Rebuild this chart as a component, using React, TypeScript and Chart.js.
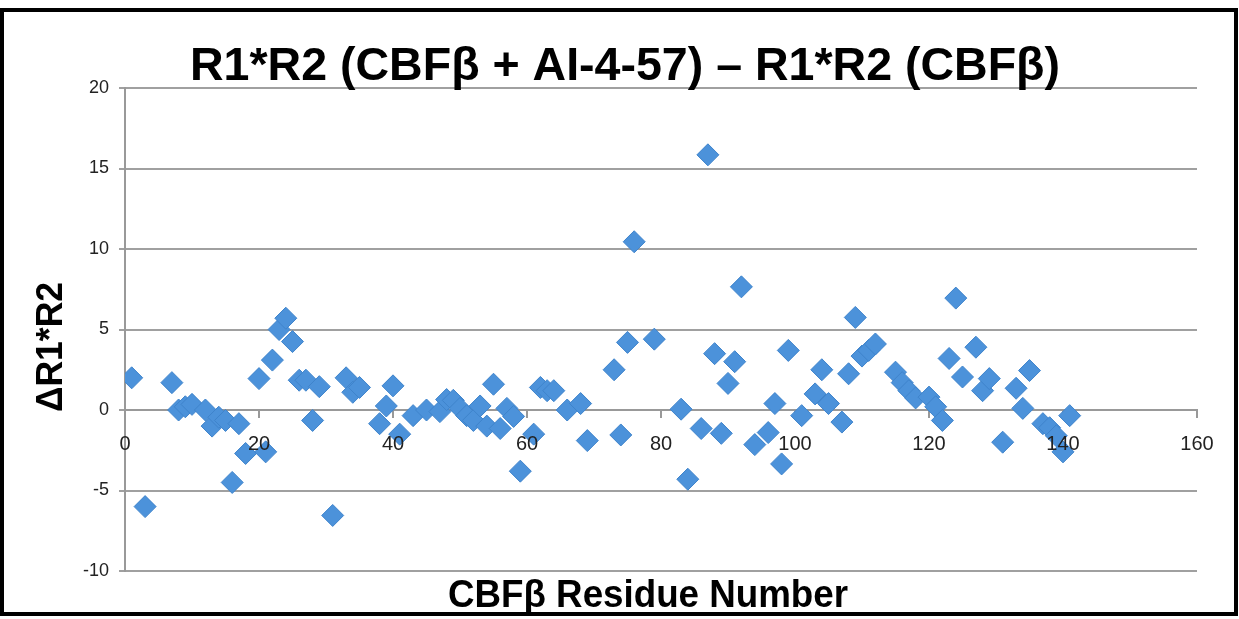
import React, { useEffect, useRef } from "react";
import { Chart, registerables } from "chart.js";

Chart.register(...registerables);

const chartTitle = "R1*R2 (CBFβ + AI-4-57) – R1*R2 (CBFβ)";
const xAxisTitle = "CBFβ Residue Number";
const yAxisTitle = "ΔR1*R2";

const residues = [
  1, 3, 7, 8, 9, 10, 12, 13, 14, 15, 16, 17, 18, 20, 21, 22, 23, 24, 25, 26, 27, 28, 29, 31, 33, 34, 35,
  38, 39, 40, 41, 43, 45, 47, 48, 49, 50, 51, 52, 53, 54, 55, 56, 57, 58, 59, 61, 62, 63, 64, 66, 68, 69,
  73, 74, 75, 76, 79, 83, 84, 86, 87, 88, 89, 90, 91, 92, 94, 96, 97, 98, 99, 101, 103, 104, 105, 107,
  108, 109, 110, 111, 112, 115, 116, 117, 118, 120, 121, 122, 123, 124, 125, 127, 128, 129, 131, 133,
  134, 135, 137, 138, 139, 140, 141,
];

const deltaR1R2 = [
  2.0, -6.0, 1.7, 0.0, 0.2, 0.35, 0.0, -1.0, -0.45, -0.65, -4.5, -0.85, -2.7, 1.95, -2.6, 3.1, 5.0, 5.7,
  4.25, 1.85, 1.85, -0.65, 1.45, -6.55, 2.0, 1.1, 1.4,
  -0.85, 0.25, 1.5, -1.5, -0.35, 0.0, -0.1, 0.65, 0.6, 0.1, -0.35, -0.65, 0.25, -1.0, 1.6, -1.15, 0.1,
  -0.4, -3.8, -1.5, 1.4, 1.2, 1.2, 0.0, 0.4, -1.9,
  2.5, -1.55, 4.2, 10.45, 4.4, 0.05, -4.3, -1.15, 15.85, 3.5, -1.45, 1.65, 3.0, 7.65, -2.15, -1.4, 0.4,
  -3.35, 3.7, -0.35, 1.0, 2.5, 0.4, -0.75,
  2.25, 5.75, 3.35, 3.7, 4.1, 2.35, 1.7, 1.2, 0.75, 0.8, 0.2, -0.65, 3.2, 6.95, 2.05, 3.9, 1.2, 1.95, -2.0,
  1.35, 0.1, 2.45, -0.85, -1.1, -1.6, -2.6, -0.35,
];

const xTickValues = [0, 20, 40, 60, 80, 100, 120, 140, 160];
const xMin = 0;
const xMax = 160;
const yMin = -10;
const yMax = 20;
const yStep = 5;

const FONT = '"Liberation Sans", Arial, sans-serif';

function drawSqueezed(
  ctx: CanvasRenderingContext2D,
  text: string,
  x: number,
  y: number,
  font: string,
  targetWidth: number,
  rotate: boolean
) {
  ctx.save();
  ctx.font = font;
  const w = ctx.measureText(text).width;
  const s = targetWidth / w;
  ctx.translate(x, y);
  if (rotate) ctx.rotate(-Math.PI / 2);
  ctx.scale(s, 1);
  ctx.textAlign = "center";
  ctx.textBaseline = "alphabetic";
  ctx.fillStyle = "#000";
  ctx.fillText(text, 0, 0);
  ctx.restore();
}

const framePlugin = {
  id: "frame",
  beforeDraw(chart: any) {
    const ctx = chart.ctx;
    ctx.save();
    ctx.fillStyle = "#fff";
    ctx.fillRect(0, 0, chart.width, chart.height);
    ctx.restore();
  },
  beforeDatasetsDraw(chart: any) {
    const ctx: CanvasRenderingContext2D = chart.ctx;
    const xs = chart.scales.x;
    const py = chart.scales.y.getPixelForValue(0);
    ctx.save();
    ctx.strokeStyle = "#999";
    ctx.lineWidth = 2;
    ctx.beginPath();
    xTickValues.forEach((v) => {
      const px = Math.round(xs.getPixelForValue(v));
      ctx.moveTo(px, py);
      ctx.lineTo(px, py + 8);
    });
    ctx.stroke();
    ctx.restore();
  },
  afterDatasetsDraw(chart: any) {
    const ctx: CanvasRenderingContext2D = chart.ctx;
    const xs = chart.scales.x;
    const py = chart.scales.y.getPixelForValue(0);
    ctx.save();
    ctx.font = `20px ${FONT}`;
    ctx.fillStyle = "#222";
    ctx.textAlign = "center";
    ctx.textBaseline = "middle";
    xTickValues.forEach((v) => {
      ctx.fillText(String(v), xs.getPixelForValue(v), py + 34);
    });
    ctx.restore();
  },
  afterDraw(chart: any) {
    const ctx: CanvasRenderingContext2D = chart.ctx;
    drawSqueezed(ctx, chartTitle, 625, 80, `bold 46px ${FONT}`, 870, false);
    drawSqueezed(ctx, xAxisTitle, 648, 607, `bold 38px ${FONT}`, 400, false);
    drawSqueezed(ctx, yAxisTitle, 62, 347, `bold 36px ${FONT}`, 130, true);
    ctx.save();
    ctx.strokeStyle = "#000";
    ctx.lineWidth = 4;
    ctx.strokeRect(2, 10, 1234, 604);
    ctx.restore();
  },
};

export default function App() {
  const canvasRef = useRef<HTMLCanvasElement | null>(null);

  useEffect(() => {
    if (!canvasRef.current) return;
    const points = residues.map((r, i) => ({ x: r, y: deltaR1R2[i] }));
    const chart = new Chart(canvasRef.current, {
      type: "scatter",
      data: {
        datasets: [
          {
            data: points,
            pointStyle: "rectRot",
            pointRadius: 11,
            pointBackgroundColor: "#4C92DA",
            pointBorderColor: "#3F84CC",
            pointBorderWidth: 1,
          },
        ],
      },
      options: {
        responsive: false,
        animation: false,
        devicePixelRatio: 1,
        layout: { padding: { top: 88, right: 42, bottom: 48, left: 0 } },
        plugins: {
          legend: { display: false },
          tooltip: { enabled: false },
          title: { display: false },
        },
        scales: {
          x: {
            type: "linear",
            min: xMin,
            max: xMax,
            position: { y: 0 } as any,
            afterBuildTicks: (s: any) => {
              s.ticks = xTickValues.map((v) => ({ value: v }));
            },
            ticks: { display: false },
            grid: { display: false },
            border: { display: true, color: "#999", width: 2 },
          },
          y: {
            type: "linear",
            min: yMin,
            max: yMax,
            ticks: {
              stepSize: yStep,
              color: "#222",
              font: { size: 18, family: FONT },
              padding: 10,
            },
            grid: { color: "#a0a0a0", lineWidth: 2, tickLength: 6 },
            border: { display: true, color: "#999", width: 2 },
            afterFit: (s: any) => {
              s.width = 125;
            },
          },
        },
      },
      plugins: [framePlugin],
    });
    return () => chart.destroy();
  }, []);

  return (
    <div style={{ position: "absolute", left: 0, top: 0, width: 1239, height: 619, background: "#fff" }}>
      <canvas ref={canvasRef} width={1239} height={619} />
    </div>
  );
}
